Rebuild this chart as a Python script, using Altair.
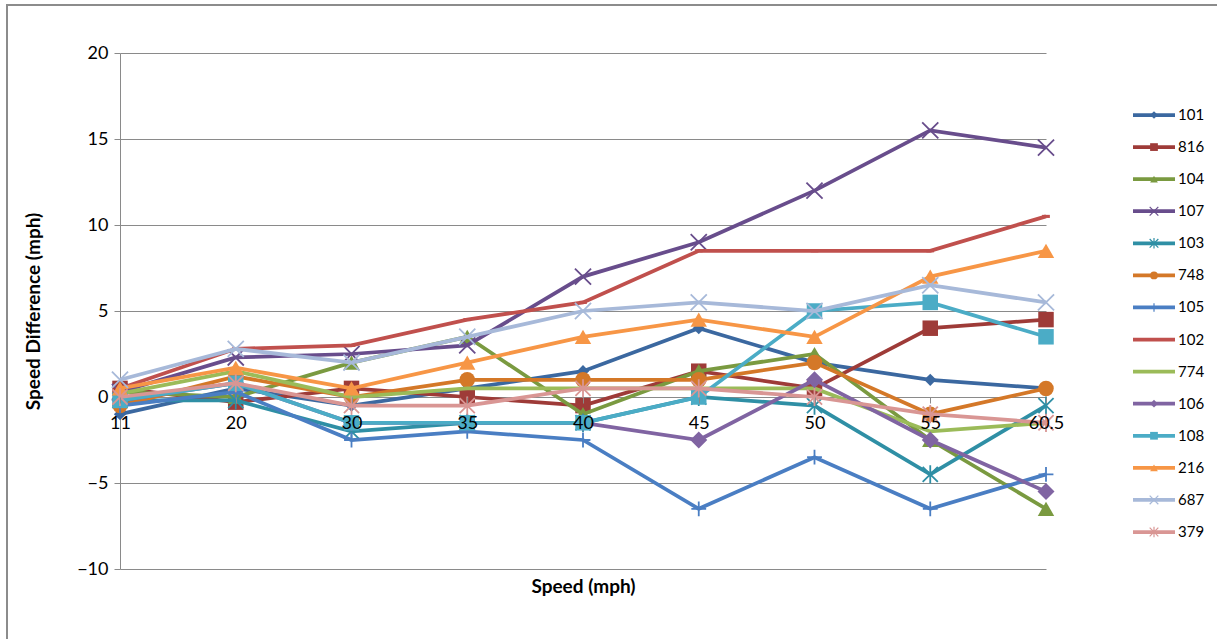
import altair as alt
import pandas as pd

# Category axis (speed, mph) and series names in legend order
speeds = ["11", "20", "30", "35", "40", "45", "50", "55", "60.5"]
series_names = ["101", "816", "104", "107", "103", "748", "105",
                "102", "774", "106", "108", "216", "687", "379"]

# Speed difference (mph) per series, one value per speed category
v101 = [-1, 0.5, -0.5, 0.5, 1.5, 4, 2, 1, 0.5]
v816 = [0.5, -0.3, 0.5, 0, -0.5, 1.5, 0.5, 4, 4.5]
v104 = [0.3, 0, 2, 3.5, -1, 1.5, 2.5, -2.5, -6.5]
v107 = [0.3, 2.3, 2.5, 3, 7, 9, 12, 15.5, 14.5]
v103 = [-0.2, -0.2, -2, -1.5, -1.5, 0, -0.5, -4.5, -0.5]
v748 = [-0.5, 1.2, 0, 1, 1, 1, 2, -1, 0.5]
v105 = [-0.5, 0.3, -2.5, -2, -2.5, -6.5, -3.5, -6.5, -4.5]
v102 = [0.5, 2.8, 3, 4.5, 5.5, 8.5, 8.5, 8.5, 10.5]
v774 = [0.2, 1.5, 0, 0.5, 0.5, 0.5, 0.5, -2, -1.5]
v106 = [-0.2, 0.8, -1.5, -1.5, -1.5, -2.5, 1, -2.5, -5.5]
v108 = [-0.2, 0.8, -1.5, -1.5, -1.5, 0, 5, 5.5, 3.5]
v216 = [0.5, 1.7, 0.5, 2, 3.5, 4.5, 3.5, 7, 8.5]
v687 = [1, 2.8, 2, 3.5, 5, 5.5, 5, 6.5, 5.5]
v379 = [0, 0.8, -0.5, -0.5, 0.5, 0.5, 0, -1, -1.5]

values = [v101, v816, v104, v107, v103, v748, v105,
          v102, v774, v106, v108, v216, v687, v379]

colors = ["#3B68A0", "#9E3B38", "#7A9A40", "#684D8C", "#2F8FA5", "#D47828", "#4A7EC3",
          "#C0504D", "#9BBB59", "#8064A2", "#4BACC6", "#F79646", "#A7B9D9", "#D99694"]

# Marker glyphs
X_PATH = "M-1,-1L1,1M-1,1L1,-1"
STAR_PATH = "M-1,-1L1,1M-1,1L1,-1M0,-1.2L0,1.2"
PLUS_PATH = "M-1,0L1,0M0,-1L0,1"
DASH_PATH = "M-1,-0.4L1,-0.4L1,0.4L-1,0.4Z"
shapes = ["diamond", "square", "triangle-up", X_PATH, STAR_PATH, "circle", PLUS_PATH,
          DASH_PATH, DASH_PATH, "diamond", "square", "triangle-up", X_PATH, STAR_PATH]
filled = [True, True, True, False, False, True, False,
          True, True, True, True, True, False, False]
sizes = [150, 240, 270, 260, 230, 240, 220, 60, 60, 290, 240, 270, 260, 230]
has_marker = [True, True, True, True, True, True, True,
              True, False, True, True, True, True, True]

rows = []
for name, vals in zip(series_names, values):
    for sp, v in zip(speeds, vals):
        rows.append({"series": name, "speed": sp, "diff": v})
df = pd.DataFrame(rows)

FONT = "Lato"
GRAY = "#8A8A8A"
W, H = 926, 516

x_enc = alt.X(
    "speed:O", sort=speeds, title="Speed (mph)",
    scale=alt.Scale(type="point", padding=0),
    axis=alt.Axis(
        labelAngle=0, offset=-172, domain=False, grid=False,
        ticks=True, tickSize=6, tickColor=GRAY, labelPadding=11,
        labelFont=FONT, labelFontSize=18, labelColor="#000000",
        titleFont=FONT, titleFontSize=19, titleFontWeight="bold", titleColor="#000000",
        titleY=189, titleBaseline="middle", zindex=1,
    ),
)
y_enc = alt.Y(
    "diff:Q", title="Speed Difference (mph)",
    scale=alt.Scale(domain=[-10, 20], nice=False, zero=False),
    axis=alt.Axis(
        values=[-10, -5, 0, 5, 10, 15, 20], grid=True, gridColor=GRAY, gridWidth=1,
        domain=True, domainColor=GRAY, domainWidth=1,
        ticks=True, tickSize=6, tickColor=GRAY, labelPadding=6,
        labelFont=FONT, labelFontSize=18, labelColor="#000000",
        titleFont=FONT, titleFontSize=19, titleFontWeight="bold", titleColor="#000000",
        titleX=-87, titleBaseline="middle",
    ),
)
color_enc = alt.Color("series:N", scale=alt.Scale(domain=series_names, range=colors), legend=None)
shape_enc = alt.Shape("series:N", scale=alt.Scale(domain=series_names, range=shapes), legend=None)

# One line + marker pair per series, drawn in series order
layers = []
for i, name in enumerate(series_names):
    base = alt.Chart(df).transform_filter(alt.datum.series == name)
    layers.append(
        base.mark_line(strokeWidth=3.75).encode(x=x_enc, y=y_enc, color=color_enc)
    )
    if has_marker[i]:
        layers.append(
            base.mark_point(
                filled=filled[i], size=sizes[i], opacity=1,
                strokeWidth=1.8 if not filled[i] else 0.8,
            ).encode(x=x_enc, y=y_enc, color=color_enc, shape=shape_enc)
        )
plot = alt.layer(*layers)

# Legend built from the same colour and shape scales
leg_df = pd.DataFrame({
    "series": series_names,
    "marker": has_marker,
    "fill": filled,
})
leg_y = alt.Y("series:N", sort=series_names,
              scale=alt.Scale(type="point", range=[62, 479], padding=0), axis=None)
leg_base = alt.Chart(leg_df)
leg_lines = leg_base.mark_rule(strokeWidth=3.75).encode(
    x=alt.value(1013), x2=alt.value(1055), y=leg_y, color=color_enc
)
leg_filled = leg_base.transform_filter(
    (alt.datum.fill == True) & (alt.datum.series != "102") & (alt.datum.series != "774")
).mark_point(filled=True, size=60, opacity=1).encode(
    x=alt.value(1034), y=leg_y, color=color_enc, shape=shape_enc
)
leg_open = leg_base.transform_filter(alt.datum.fill == False).mark_point(
    filled=False, size=75, strokeWidth=1.2, opacity=1
).encode(x=alt.value(1034), y=leg_y, color=color_enc, shape=shape_enc)
leg_text = leg_base.mark_text(
    align="left", baseline="middle", font=FONT, fontSize=15, color="#000000"
).encode(x=alt.value(1058), y=leg_y, text="series:N")

# Outer chart-area border
frame = alt.Chart(pd.DataFrame({"k": [0]})).mark_rect(
    fillOpacity=0, stroke="#8C8C8C", strokeWidth=2
).encode(x=alt.value(-113), x2=alt.value(1120), y=alt.value(-48), y2=alt.value(620))

legend = alt.layer(frame, leg_lines, leg_filled, leg_open, leg_text)

chart = alt.layer(plot, legend).resolve_scale(y="independent").properties(
    width=W, height=H,
    autosize=alt.AutoSizeParams(type="none"),
    padding={"left": 120, "top": 53, "right": 171, "bottom": 70},
    background="#FFFFFF",
).configure_view(strokeWidth=0)

chart.save("out.html", embed_options={"renderer": "svg", "actions": False})
